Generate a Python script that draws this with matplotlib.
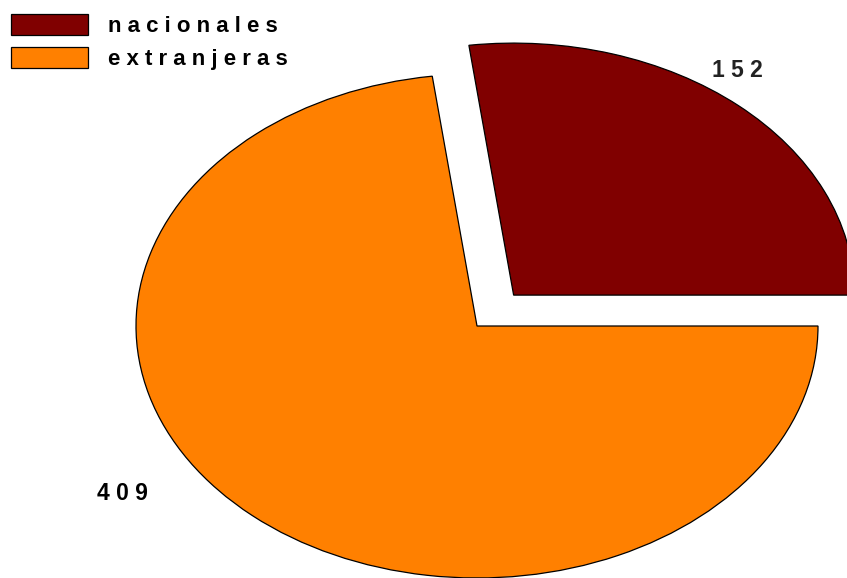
import matplotlib.pyplot as plt

labels = ["nacionales", "extranjeras"]
values = [152, 409]
colors = ["#800000", "#FF8000"]
explode = [0.163, 0]

plt.rcParams['font.family'] = ['Liberation Sans', 'DejaVu Sans']

fig = plt.figure(figsize=(8.47, 5.78), dpi=100)
# axes placed so the unit pie becomes a wide ellipse
ax = fig.add_axes([136 / 847, 0, 682 / 847, 504 / 578])

wedges, _ = ax.pie(values, colors=colors, explode=explode, startangle=0,
                   counterclock=True,
                   wedgeprops=dict(edgecolor="black", linewidth=0.9))
ax.set_aspect('auto')
ax.set_xlim(-1, 1)
ax.set_ylim(-1, 1)
for w in wedges:
    w.set_clip_on(False)

# value labels
ax.text(0.765, 1.014, " ".join(str(values[0])), ha="center", va="center",
        fontsize=16.5, fontweight="bold", color="#222222", clip_on=False)
ax.text(-1.041, -0.663, " ".join(str(values[1])), ha="center", va="center",
        fontsize=16.5, fontweight="bold", color="black", clip_on=False)

leg = fig.legend(wedges, [" ".join(l) for l in labels],
                 loc="upper left", bbox_to_anchor=(11 / 847, 1 - 14 / 578),
                 frameon=False, borderaxespad=0, borderpad=0,
                 handlelength=3.47, handleheight=1.06, handletextpad=0.9,
                 labelspacing=0.45, prop=dict(weight="bold", size=16))
for h in leg.legend_handles:
    h.set_linewidth(0.9)

fig.savefig("out.png", dpi=100)
